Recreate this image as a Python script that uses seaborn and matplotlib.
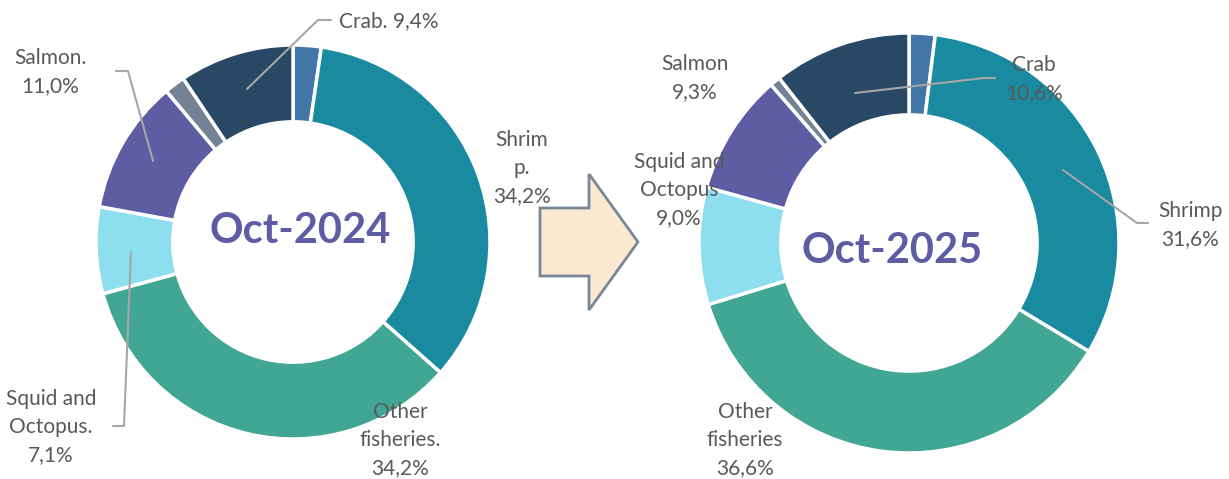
import matplotlib
matplotlib.use("Agg")
import seaborn as sns
from matplotlib import pyplot as plt
from matplotlib.patches import Polygon

# segment order: clockwise from 12 o'clock
segments = ["Other blue", "Shrimp", "Other fisheries", "Squid and Octopus", "Salmon", "Other gray", "Crab"]
share_2024 = [2.3, 34.2, 34.2, 7.1, 11.0, 1.7, 9.4]
share_2025 = [2.0, 31.6, 36.6, 9.0, 9.3, 0.8, 10.6]
colors = ["#4275A8", "#1A8AA0", "#41A693", "#8DDEEF", "#5E5CA2", "#748394", "#284865"]

labels_2024 = {"Crab": "Crab. 9,4%", "Shrimp": "Shrim\np.\n34,2%", "Other fisheries": "Other\nfisheries.\n34,2%",
               "Squid and Octopus": "Squid and\nOctopus.\n7,1%", "Salmon": "Salmon.\n11,0%"}
labels_2025 = {"Salmon": "Salmon\n9,3%", "Crab": "Crab\n10,6%", "Shrimp": "Shrimp\n31,6%",
               "Squid and Octopus": "Squid and\nOctopus\n9,0%", "Other fisheries": "Other\nfisheries\n36,6%"}

W, H = 1229, 479
TXT = "#595959"
LEAD = "#A6A6A6"

sns.set_theme(style="white")
plt.rcParams["font.family"] = ["Lato", "DejaVu Sans"]

fig = plt.figure(figsize=(W / 100, H / 100), dpi=100)


def donut_axes(cx, cy, r):
    ax = fig.add_axes([(cx - r) / W, (H - cy - r) / H, 2 * r / W, 2 * r / H])
    ax.set_xlim(-1, 1)
    ax.set_ylim(-1, 1)
    ax.set_aspect("equal")
    ax.axis("off")
    return ax


def draw(ax, values):
    ax.pie(values, colors=colors, startangle=90, counterclock=False, radius=1,
           wedgeprops=dict(width=0.39, edgecolor="white", linewidth=2.5))
    ax.set_xlim(-1, 1)
    ax.set_ylim(-1, 1)


# pixel -> data helpers for label placement
def place(ax, cx, cy, r, px, py, s, **kw):
    opts = dict(ha="center", va="center", fontsize=15, color=TXT, linespacing=1.5, clip_on=False)
    opts.update(kw)
    ax.text((px - cx) / r, (cy - py) / r, s, **opts)


def leader(ax, cx, cy, r, pts):
    xs = [(p[0] - cx) / r for p in pts]
    ys = [(cy - p[1]) / r for p in pts]
    ax.plot(xs, ys, color=LEAD, lw=1.5, clip_on=False, zorder=5)


title_kw = dict(fontsize=30, fontweight="bold", color="#5E5CA2", linespacing=1.0)

# left donut
L = (293, 242, 197)
ax1 = donut_axes(*L)
draw(ax1, share_2024)
place(ax1, *L, 300, 231, "Oct-2024", **title_kw)
place(ax1, *L, 389, 21, labels_2024["Crab"])
leader(ax1, *L, [(331, 20), (318, 20), (247, 89)])
place(ax1, *L, 522, 168, labels_2024["Shrimp"])
place(ax1, *L, 400, 440, labels_2024["Other fisheries"])
place(ax1, *L, 51, 427, labels_2024["Squid and Octopus"])
leader(ax1, *L, [(113, 426), (124, 426), (131, 252)])
place(ax1, *L, 50, 72, labels_2024["Salmon"])
leader(ax1, *L, [(116, 71), (128, 71), (153, 161)])

# right donut
R = (909, 243, 210)
ax2 = donut_axes(*R)
draw(ax2, share_2025)
place(ax2, *R, 892, 251, "Oct-2025", **title_kw)
place(ax2, *R, 695, 78, labels_2025["Salmon"])
place(ax2, *R, 1034, 79, labels_2025["Crab"])
leader(ax2, *R, [(995, 78), (984, 78), (855, 93)])
place(ax2, *R, 1190, 225, labels_2025["Shrimp"])
leader(ax2, *R, [(1148, 223), (1137, 223), (1063, 170)])
place(ax2, *R, 679, 190, labels_2025["Squid and Octopus"])
place(ax2, *R, 745, 440, labels_2025["Other fisheries"])

# block arrow between the two donuts
arrow_px = [(540, 208), (589, 208), (589, 174), (638, 242), (589, 310), (589, 276), (540, 276)]
arrow = Polygon([(x / W, 1 - y / H) for x, y in arrow_px], closed=True,
                transform=fig.transFigure, facecolor="#FCE9D2", edgecolor="#7A8799", lw=2)
fig.add_artist(arrow)

fig.savefig("out.png", dpi=100)
